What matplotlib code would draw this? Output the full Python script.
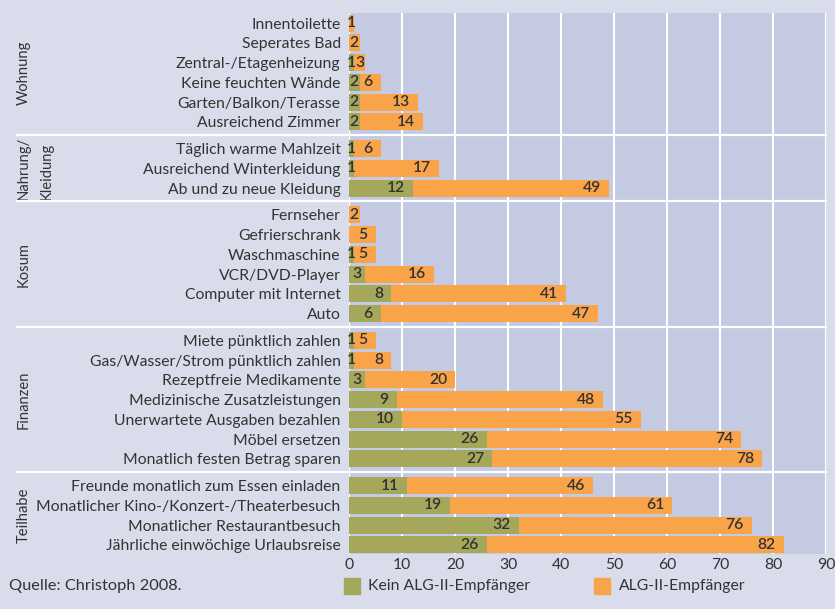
import matplotlib
matplotlib.use("Agg")
import matplotlib.pyplot as plt
from matplotlib.patches import Rectangle
from matplotlib.lines import Line2D
from matplotlib.transforms import blended_transform_factory

plt.rcParams['font.family'] = ['Lato', 'DejaVu Sans']

# groups and their items (top to bottom)
groups = ["Wohnung", "Nahrung/\nKleidung", "Kosum", "Finanzen", "Teilhabe"]
group_sizes = [6, 3, 6, 7, 4]
labels = [
    "Innentoilette", "Seperates Bad", "Zentral-/Etagenheizung", "Keine feuchten Wände",
    "Garten/Balkon/Terasse", "Ausreichend Zimmer",
    "Täglich warme Mahlzeit", "Ausreichend Winterkleidung", "Ab und zu neue Kleidung",
    "Fernseher", "Gefrierschrank", "Waschmaschine", "VCR/DVD-Player",
    "Computer mit Internet", "Auto",
    "Miete pünktlich zahlen", "Gas/Wasser/Strom pünktlich zahlen", "Rezeptfreie Medikamente",
    "Medizinische Zusatzleistungen", "Unerwartete Ausgaben bezahlen", "Möbel ersetzen",
    "Monatlich festen Betrag sparen",
    "Freunde monatlich zum Essen einladen", "Monatlicher Kino-/Konzert-/Theaterbesuch",
    "Monatlicher Restaurantbesuch", "Jährliche einwöchige Urlaubsreise",
]
kein_alg = [0, 0, 1, 2, 2, 2,
            1, 1, 12,
            0, 0, 1, 3, 8, 6,
            1, 1, 3, 9, 10, 26, 27,
            11, 19, 32, 26]
alg = [1, 2, 3, 6, 13, 14,
       6, 17, 49,
       2, 5, 5, 16, 41, 47,
       5, 8, 20, 48, 55, 74, 78,
       46, 61, 76, 82]
xticks = [0, 10, 20, 30, 40, 50, 60, 70, 80, 90]

GREEN = "#a5a85a"
ORANGE = "#faa44a"
FIG_BG = "#d9ddeb"
AX_BG = "#c5cae3"
TXT = "#333333"

gap = 0.36
ypos = []
group_bounds = []
y = 0.0
for n in group_sizes:
    start = y
    for k in range(n):
        ypos.append(y)
        y += 1
    group_bounds.append((start, y - 1))
    y += gap

fig = plt.figure(figsize=(8.35, 6.09), dpi=100, facecolor=FIG_BG)
ax = fig.add_axes([349 / 835, 1 - 554 / 609, (826 - 349) / 835, (554 - 13) / 609])
ax.set_facecolor(AX_BG)

ax.barh(ypos, alg, height=0.86, color=ORANGE, zorder=2)
ax.barh(ypos, kein_alg, height=0.86, color=GREEN, zorder=3)

vfs = 11.3
for yy, g, o in zip(ypos, kein_alg, alg):
    if g > 0:
        if g >= 5:
            ax.text(g - 1.5, yy, str(g), ha="right", va="center", fontsize=vfs,
                    color=TXT, fontweight="semibold", zorder=4)
        else:
            ax.text(g / 2, yy, str(g), ha="center", va="center", fontsize=vfs,
                    color=TXT, fontweight="semibold", zorder=4)
    if o - g >= 4:
        ax.text(o - 1.5, yy, str(o), ha="right", va="center", fontsize=vfs,
                color=TXT, fontweight="semibold", zorder=4)
    else:
        ax.text((g + o) / 2, yy, str(o), ha="center", va="center", fontsize=vfs,
                color=TXT, fontweight="semibold", zorder=4)

ax.set_xlim(0, 90)
ax.set_ylim(ypos[-1] + 0.46, -0.51)
ax.set_xticks(xticks)
ax.set_yticks(ypos)
ax.set_yticklabels(labels)
ax.tick_params(axis="both", length=0, labelsize=11.3, labelcolor=TXT)
ax.tick_params(axis="y", pad=6)
ax.tick_params(axis="x", pad=3)
ax.grid(axis="x", color="white", linewidth=1.5, zorder=1)
ax.set_axisbelow(True)
for s in ax.spines.values():
    s.set_visible(False)

# group separators spanning into the label area
tr = blended_transform_factory(fig.transFigure, ax.transData)
for (s0, e0), (s1, e1) in zip(group_bounds[:-1], group_bounds[1:]):
    ysep = (e0 + s1) / 2
    fig.add_artist(Line2D([17 / 835, 826 / 835], [ysep, ysep], transform=tr,
                          color="white", linewidth=1.6, zorder=5))

# group labels
for name, (s0, e0) in zip(groups, group_bounds):
    fig.text(17 / 835, (s0 + e0) / 2, name, transform=tr, rotation=90, ha="left",
             va="center", fontsize=10.6, color=TXT, multialignment="left",
             linespacing=1.75)

# legend
fig.add_artist(Rectangle((344 / 835, 1 - 594 / 609), 16 / 835, 16 / 609,
                         transform=fig.transFigure, color=GREEN))
fig.text(368 / 835, 1 - 586 / 609, "Kein ALG-II-Empfänger", ha="left", va="center",
         fontsize=11.3, color=TXT)
fig.add_artist(Rectangle((594 / 835, 1 - 594 / 609), 16 / 835, 16 / 609,
                         transform=fig.transFigure, color=ORANGE))
fig.text(619 / 835, 1 - 586 / 609, "ALG-II-Empfänger", ha="left", va="center",
         fontsize=11.3, color=TXT)

fig.text(9 / 835, 1 - 586 / 609, "Quelle: Christoph 2008.", ha="left", va="center",
         fontsize=11.8, color=TXT)

fig.savefig("out.png", dpi=100, facecolor=FIG_BG)
